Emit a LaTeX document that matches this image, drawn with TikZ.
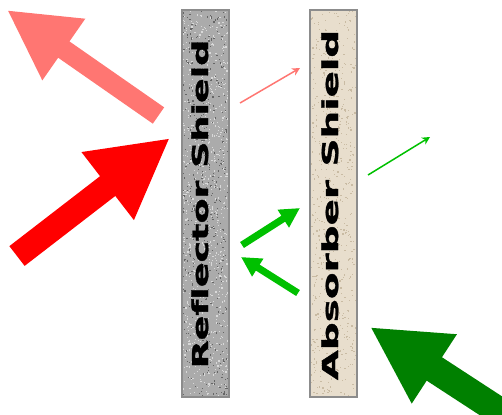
\documentclass[tikz,border=0pt]{standalone}
\usepackage{fontspec}
\setsansfont{DejaVu Sans}
\usetikzlibrary{arrows.meta}

\definecolor{paleRed}{HTML}{FF7672}
\definecolor{fullRed}{HTML}{FF0000}
\definecolor{darkGreen}{HTML}{008000}
\definecolor{midGreen}{HTML}{00C000}
\definecolor{granite}{HTML}{ABABAB}
\definecolor{linen}{HTML}{E8DECD}
\definecolor{linenDot}{HTML}{C9BBA3}

\begin{document}
\begin{tikzpicture}[x=0.02cm, y=-0.02cm,
	shieldtext/.style={rotate=90, inner sep=0pt, anchor=base,
		font=\sffamily\bfseries\fontsize{12.5}{12.5}\selectfont\addfontfeature{FakeBold=1.2, Ligatures=NoCommon}},
	shieldedge/.style={draw=black!45, line width=0.6pt},
	blockarrow/.style={line cap=butt, draw=#1},
	thinarrow/.style={line width=0.85pt, draw=#1, -{Stealth[length=4.5pt, width=4.5pt]}}]

\useasboundingbox (0,0) rectangle (502,414);
\clip (0,0) rectangle (502,414);

% ---- shields ----
\fill[granite] (182,10) rectangle (229,397);
\pgfmathsetseed{11}
\foreach \k in {1,...,500}
	\fill[black!60] ({182+46*rnd},{10+386*rnd}) rectangle ++(1.2,1.2);
\foreach \k in {1,...,800}
	\fill[white!85!black] ({182+46*rnd},{10+386*rnd}) rectangle ++(1.2,1.2);
\draw[shieldedge] (182,10) rectangle (229,397);

\fill[linen] (310,10) rectangle (357,397);
\foreach \k in {1,...,600}
	\fill[linenDot] ({310+46*rnd},{10+386*rnd}) rectangle ++(1.2,1.2);
\draw[shieldedge] (310,10) rectangle (357,397);

\node[shieldtext, xscale=1.66] (reflLabel) at (208,204) {Reflector Shield};
\node[shieldtext, xscale=1.77] (absLabel) at (338,205) {Absorber Shield};

% ---- end points ----
\coordinate (inRedTail) at (17,256);
\coordinate (inRedTip) at (170,138);
\coordinate (outRedTail) at (158.5,115.5);
\coordinate (outRedTip) at (7,10);
\coordinate (leakRedTail) at (240,103);
\coordinate (leakRedTip) at (300,68);
\coordinate (inGreenTail) at (525,428);
\coordinate (inGreenTip) at (370,327);
\coordinate (bounceTail) at (298,293);
\coordinate (bounceTip) at (241,257);
\coordinate (returnTail) at (242,245);
\coordinate (returnTip) at (300,208);
\coordinate (leakGreenTail) at (368,175);
\coordinate (leakGreenTip) at (430,137);

% ---- arrows ----
\draw[blockarrow=paleRed, line width=11.3pt,
	-{Triangle[length=39.4pt, width=39.7pt]}] (outRedTail) -- (outRedTip);
\draw[blockarrow=fullRed, line width=14.2pt,
	-{Triangle[length=44.8pt, width=45.4pt]}] (inRedTail) -- (inRedTip);
\draw[blockarrow=darkGreen, line width=15.9pt,
	-{Triangle[length=43.7pt, width=43.7pt]}] (inGreenTail) -- (inGreenTip);
\draw[blockarrow=midGreen, line width=4pt,
	-{Triangle[length=11.3pt, width=11.3pt]}] (bounceTail) -- (bounceTip);
\draw[blockarrow=midGreen, line width=4pt,
	-{Triangle[length=11.3pt, width=11.3pt]}] (returnTail) -- (returnTip);
\draw[thinarrow=paleRed] (leakRedTail) -- (leakRedTip);
\draw[thinarrow=midGreen] (leakGreenTail) -- (leakGreenTip);

\end{tikzpicture}
\end{document}
